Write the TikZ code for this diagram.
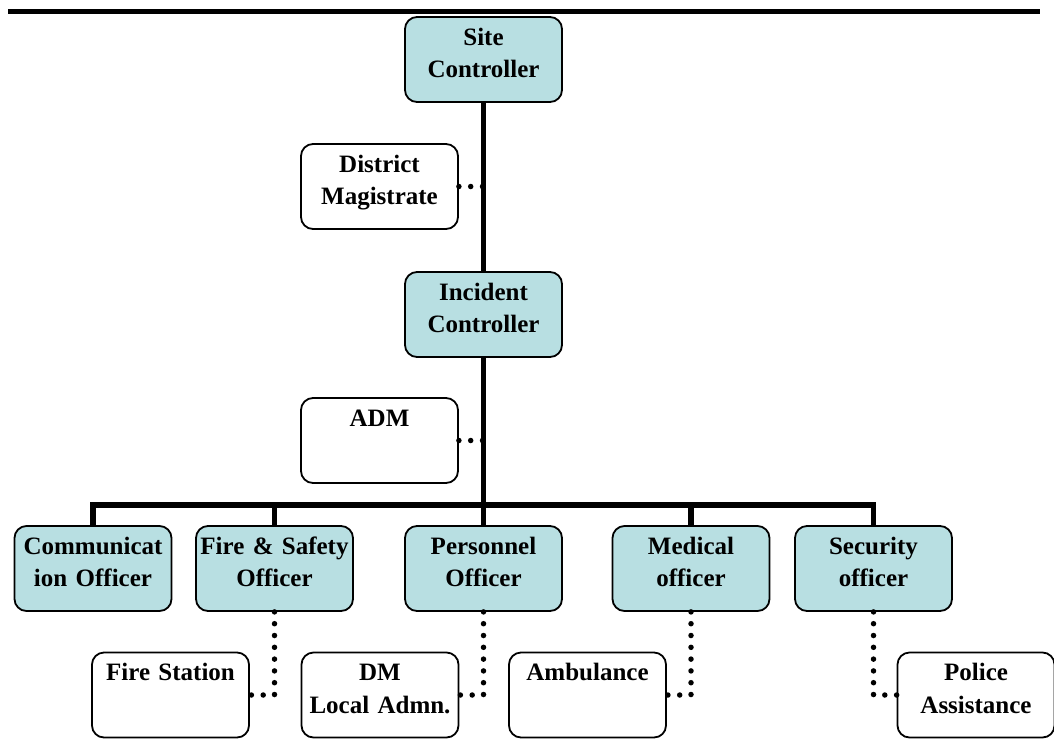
\documentclass[tikz,border=0pt]{standalone}
\usepackage{fontspec}
\setmainfont{Liberation Serif}
\definecolor{boxteal}{RGB}{184,223,226}
\begin{document}
\begin{tikzpicture}[x=1pt,y=-1pt,
  post/.style={draw, line width=1.8pt, rounded corners=12pt, align=center,
    text width=152pt, inner xsep=2.5pt, inner ysep=0pt,
    text height=28pt, text depth=57pt,
    font=\bfseries\fontsize{25}{32.5}\selectfont},
  chief/.style={post, fill=boxteal},
  aide/.style={post, fill=white},
  line/.style={line width=5.5pt},
  dots/.style={line width=5.5pt, line cap=round, dash pattern=on 0pt off 11.8pt}]
  \useasboundingbox (0,0) rectangle (1054,742);
  \coordinate (rulel) at (8,11.5);
  \coordinate (ruler) at (1040,11.5);
  \draw[line width=5pt] (rulel) -- (ruler);
  \node[chief] (site) at (483.5,59.5) {Site\\Controller};
  \node[aide] (dm) at (379.5,186.5) {District\\Magistrate};
  \node[chief] (incident) at (483.5,314.5) {Incident\\Controller};
  \node[aide] (adm) at (379.5,440.5) {ADM};
  \node[chief] (comm) at (93,568.5) {Communicat\\ion Officer};
  \node[chief] (fire) at (274.5,568.5) {Fire \& Safety\\Officer};
  \node[chief] (pers) at (483.5,568.5) {Personnel\\Officer};
  \node[chief] (med) at (691,568.5) {Medical\\officer};
  \node[chief] (sec) at (873.5,568.5) {Security\\officer};
  \node[aide] (firestn) at (170.5,695) {Fire Station};
  \node[aide] (local) at (380,695) {DM\\Local Admn.};
  \node[aide] (amb) at (587.5,695) {Ambulance};
  \node[aide] (police) at (976,695) {Police\\Assistance};
  \coordinate (bus) at (483.5,505);
  \draw[line] (site) -- (incident);
  \draw[line] (incident) -- (pers);
  \draw[line] (comm.north) |- (bus) -| (sec.north);
  \draw[line] (fire.north) -- (fire.north |- bus);
  \draw[line] (med.north) -- (med.north |- bus);
  \draw[dots] (dm.east) -- (dm.east -| site.south);
  \draw[dots] (adm.east) -- (adm.east -| site.south);
  \draw[dots] (fire.south) |- (firestn.east);
  \draw[dots] (pers.south) |- (local.east);
  \draw[dots] (med.south) |- (amb.east);
  \draw[dots] (sec.south) |- (police.west);
\end{tikzpicture}
\end{document}
